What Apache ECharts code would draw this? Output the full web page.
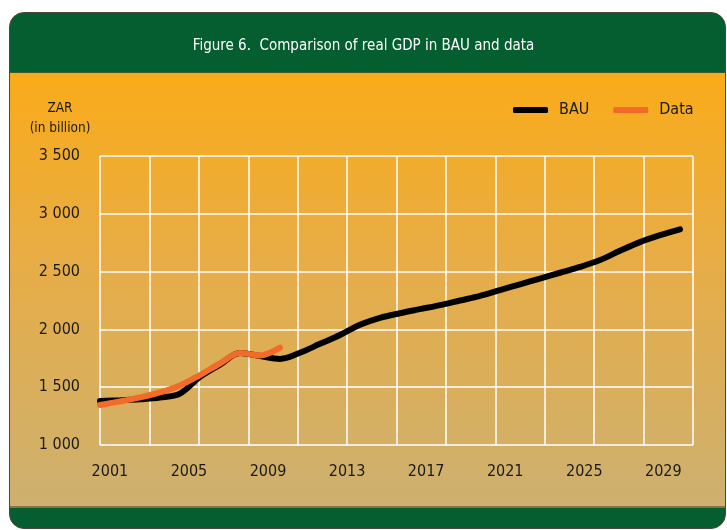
<!DOCTYPE html>
<html>
<head>
<meta charset="utf-8">
<script src="https://cdn.jsdelivr.net/npm/echarts@6/dist/echarts.min.js"></script>
<style>
	body{ margin:0; background:#ffffff; }
	.wrap{ position:relative; width:727px; height:530px; overflow:hidden; }
	.frame{
		position:absolute; left:9px; top:12px; width:715px; height:515px;
		border:1px solid #4d4a3a; border-radius:15px; background:#055e30; overflow:hidden;
	}
	.body{
		position:absolute; left:0; top:59px; width:100%; height:433px;
		background:linear-gradient(#faab19, #e6ad48 45%, #cdb070);
		border-top:1px solid #3f5a2a; border-bottom:2px solid #8a7243;
	}
	#main{ position:absolute; left:0; top:0; width:727px; height:530px; }
</style>
</head>
<body>
<div class="wrap">
	<div class="frame"><div class="body"></div></div>
	<div id="main"></div>
</div>
<script>
	var FONT = "'Liberation Sans Narrow', 'DejaVu Sans Condensed', sans-serif";
	// years shown on the axis (one slot per year)
	var years = [];
	for (var y = 2001; y <= 2030; y++) years.push(String(y));
	// BAU projection, ZAR billion
	var bauYears = [2001,2002,2003,2004,2005,2006,2007,2008,2009,2010,2011,2012,2013,2014,2015,
		2016,2017,2018,2019,2020,2021,2022,2023,2024,2025,2026,2027,2028,2029,2030];
	var bauValues = [1381,1388,1396,1410,1445,1590,1695,1795,1770,1745,1798,1875,1951,2040,2100,
		2140,2175,2210,2250,2290,2340,2390,2440,2490,2540,2600,2680,2755,2815,2866];
	// observed data
	var dataYears = [2001,2002,2003,2004,2005,2006,2007,2008,2009,2010];
	var dataValues = [1346,1377,1412,1455,1515,1605,1705,1795,1775,1842];
	var yTicks = { min: 1000, max: 3500, step: 500 };

	function pairs(xs, vs){
		var out = [];
		for (var i = 0; i < xs.length; i++) out.push([xs[i], vs[i]]);
		return out;
	}

	var chart = echarts.init(document.getElementById('main'));
	var white = { show: true, lineStyle: { color: '#ffffff', width: 1.5 } };
	var option = {
		animation: false,
		textStyle: { fontFamily: FONT },
		title: {
			text: 'Figure 6.  Comparison of real GDP in BAU and data',
			left: 'center', top: 34,
			textStyle: { color: '#ffffff', fontSize: 15, fontWeight: 'normal', fontFamily: FONT }
		},
		legend: {
			data: ['BAU', 'Data'],
			left: 508, top: 97,
			icon: 'roundRect', itemWidth: 35, itemHeight: 6, itemGap: 24,
			textStyle: { color: '#1a1a1a', fontSize: 16, fontFamily: FONT, padding: [0, 0, 0, 6] }
		},
		graphic: [
			{ type: 'text', x: 60, y: 108, style: { text: 'ZAR', fill: '#1a1a1a', font: '13.5px ' + FONT, textAlign: 'center', textVerticalAlign: 'middle' } },
			{ type: 'text', x: 60, y: 128, style: { text: '(in billion)', fill: '#1a1a1a', font: '13.5px ' + FONT, textAlign: 'center', textVerticalAlign: 'middle' } }
		],
		grid: { left: 100, right: 34, top: 156, bottom: 85 },
		xAxis: [
			{ type: 'value', min: 0, max: 12, interval: 1, axisLine: { show: false }, axisTick: { show: false },
				axisLabel: { show: false }, splitLine: white },
			{ type: 'category', data: years, boundaryGap: true, position: 'bottom',
				axisLine: { show: false }, axisTick: { show: false }, splitLine: { show: false },
				axisLabel: { interval: 3, margin: 19, color: '#1a1a1a', fontSize: 16, fontFamily: FONT } },
			{ type: 'value', min: 2001, max: 2030.65, show: false }
		],
		yAxis: {
			type: 'value', min: yTicks.min, max: yTicks.max, interval: yTicks.step,
			axisLine: { show: false }, axisTick: { show: false }, splitLine: white,
			axisLabel: {
				margin: 20, color: '#1a1a1a', fontSize: 16, fontFamily: FONT,
				formatter: function (v) { return String(v).replace(/\B(?=(\d{3})+(?!\d))/g, ' '); }
			}
		},
		series: [
			{ name: 'BAU', type: 'line', xAxisIndex: 2, data: pairs(bauYears, bauValues), smooth: 0.35,
				symbol: 'none', color: '#000000', lineStyle: { width: 6, color: '#000000', cap: 'round' }, z: 3 },
			{ name: 'Data', type: 'line', xAxisIndex: 2, data: pairs(dataYears, dataValues), smooth: 0.35,
				symbol: 'none', color: '#f26b28', lineStyle: { width: 6, color: '#f26b28', cap: 'round' }, z: 4 }
		]
	};
	chart.setOption(option);
</script>
</body>
</html>
